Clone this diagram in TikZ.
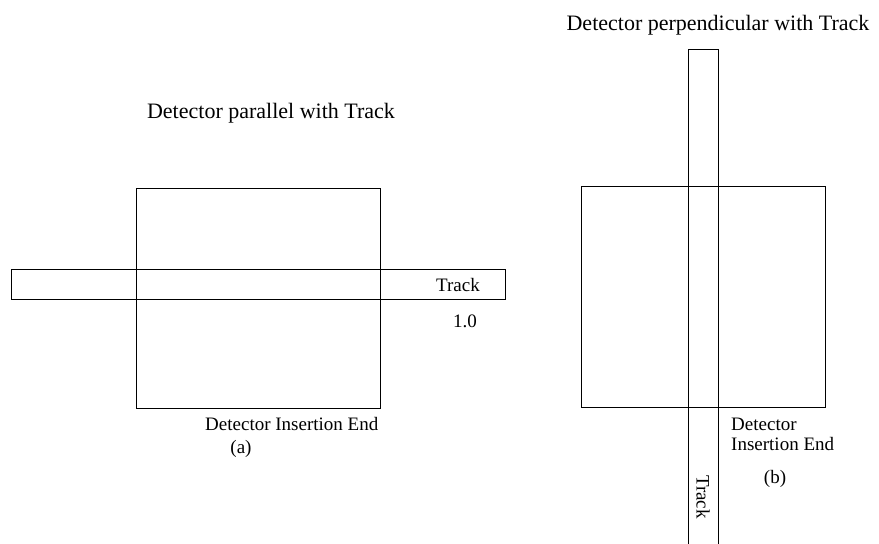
\documentclass[tikz,border=0pt]{standalone}
\usepackage{fontspec}
\setmainfont{Liberation Serif}
\begin{document}
\begin{tikzpicture}[x=1pt,y=-1pt,
  box/.style={draw,line width=0.9pt},
  lbl/.style={font=\fontsize{19}{20}\selectfont,inner sep=0pt},
  ttl/.style={font=\fontsize{22}{26}\selectfont,inner sep=0pt}]
\useasboundingbox (0,0) rectangle (879,544);
% (a)
\node[ttl] (ta) at (271,113) {Detector parallel with Track};
\draw[box] (136,188) rectangle (380,408);
\draw[box] (11,269) rectangle (505,299);
\node[lbl] (tracka) at (458,285) {Track};
\node[lbl] (one) at (465,321) {1.0};
\node[lbl,anchor=west] (dia) at (205,424) {Detector Insertion End};
\node[lbl] (a) at (241,449) {(a)};
% (b)
\node[ttl] (tb) at (718,25) {Detector perpendicular with Track};
\draw[box] (581,186) rectangle (825,407);
\draw[box] (688,544) -- (688,49) -- (718,49) -- (718,544);
\node[lbl,rotate=-90] (trackb) at (703,497) {Track};
\node[lbl,anchor=west,align=left] (dib) at (731,434) {Detector\\Insertion End};
\node[lbl] (b) at (775,479) {(b)};
\end{tikzpicture}
\end{document}
